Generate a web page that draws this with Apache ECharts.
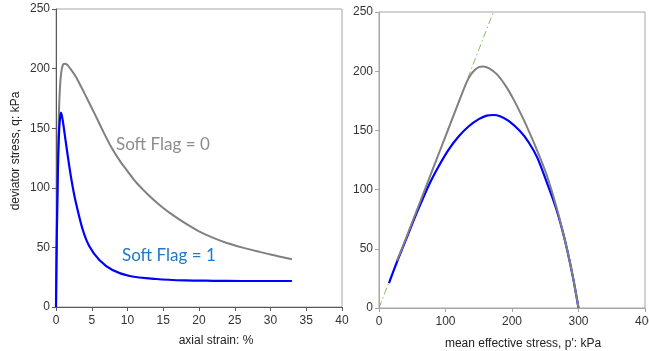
<!DOCTYPE html>
<html>
<head>
<meta charset="utf-8">
<script src="https://cdn.jsdelivr.net/npm/echarts@6/dist/echarts.min.js"></script>
<style>html,body{margin:0;padding:0;background:#fff}#c{width:649px;height:351px}</style>
</head>
<body>
<div id="c"></div>
<script>
// Tick labels
const strainTicks = [0, 5, 10, 15, 20, 25, 30, 35, 40];
const qTicks = [0, 50, 100, 150, 200, 250];
const pTicks = [0, 100, 200, 300, 400];

// Left panel: deviator stress q (kPa) vs axial strain (%)
const softFlag0Strain = [0, 0.1, 0.2, 0.3, 0.45, 0.65, 0.9, 1.2, 1.6, 2.0, 2.8, 3.5, 4.5, 5.5, 6.5, 7.7, 9, 10, 11, 12, 13, 14, 15, 16, 18, 20, 22, 24, 26, 28, 30, 33];
const softFlag0Q      = [0, 50, 95, 135, 170, 192, 202, 204, 203, 200, 193, 185, 173, 161, 148.5, 134.5, 122, 114, 106, 99.5, 93.5, 88, 83, 78.5, 70.5, 63.5, 58, 53.5, 50, 47, 44, 40];

const softFlag1Strain = [0, 0.1, 0.25, 0.4, 0.55, 0.7, 0.93, 1.4, 1.86, 2.33, 2.8, 3.73, 4.66, 6.06, 7.9, 10.3, 14, 18, 22, 26, 30, 33];
const softFlag1Q      = [0, 55, 110, 143, 158, 163, 157, 137, 118, 101, 87, 65, 51, 39.5, 31, 26, 23.5, 22.3, 22, 21.8, 21.8, 21.8];

// Right panel: q vs mean effective stress p' (kPa)
const softFlag0P  = [300, 292, 283, 268, 253, 240, 228, 215, 202.5, 190, 177, 165, 157, 150, 144, 138, 132, 120, 100, 80, 60, 40, 27];
const softFlag0Qp = [0, 25, 49, 83, 111, 130, 146, 162, 176, 188, 197.5, 202.5, 204, 203.5, 201, 197, 191, 174, 145, 116, 87, 58, 40];

const softFlag1P  = [300, 292, 283, 275.6, 265.5, 253, 238, 225, 212.6, 195, 182, 172, 162, 150, 135, 120, 105, 90, 76, 58, 40, 26, 15];
const softFlag1Qp = [0, 25, 49, 66, 85.5, 105, 127, 140, 149, 158, 162, 163, 162.5, 159.5, 153.5, 145, 134, 120, 105, 82, 57, 37.5, 21];

// Critical state line
const cslP = [0, 172];
const cslQ = [0, 250];

const zip = (a, b) => a.map((v, i) => [v, b[i]]);

const font = 'Liberation Sans, Arial, sans-serif';
const labelStyle = { color: '#333', fontSize: 12, fontFamily: font };
const nameStyle = { color: '#222', fontSize: 12, fontFamily: font };

function valAxis(ticks, extra) {
  const step = ticks[1] - ticks[0];
  return Object.assign({
    type: 'value',
    min: ticks[0],
    max: ticks[ticks.length - 1],
    interval: step,
    splitLine: { show: false },
    axisLine: { show: true, lineStyle: { color: '#595959', width: 1 } },
    axisTick: { show: true, inside: false, length: 4, lineStyle: { color: '#595959' } },
    axisLabel: Object.assign({ margin: 6 }, labelStyle),
    nameTextStyle: nameStyle
  }, extra);
}

const lineBase = { type: 'line', showSymbol: false, smooth: 0.3, silent: true };

const chart = echarts.init(document.getElementById('c'));
chart.setOption({
  animation: false,
  backgroundColor: '#fff',
  grid: [
    { left: 56, right: 307, top: 9, bottom: 44, containLabel: false, outerBoundsMode: 'none', show: true, borderColor: '#a6a6a6', borderWidth: 1 },
    { left: 379, right: 4, top: 12, bottom: 43, containLabel: false, outerBoundsMode: 'none', show: true, borderColor: '#a6a6a6', borderWidth: 1 }
  ],
  xAxis: [
    valAxis(strainTicks, { gridIndex: 0, name: 'axial strain: %', nameLocation: 'middle', nameGap: 28,
      axisLabel: Object.assign({ margin: 8 }, labelStyle),
      nameTextStyle: Object.assign({}, nameStyle, { padding: [0, 0, 0, 34] }) }),
    valAxis(pTicks, { gridIndex: 1, name: "mean effective stress, p': kPa", nameLocation: 'middle', nameGap: 30,
      axisLabel: Object.assign({ margin: 8 }, labelStyle),
      axisLine: { show: true, lineStyle: { color: '#a6a6a6' } },
      axisTick: { show: true, length: 4, lineStyle: { color: '#a6a6a6' } },
      nameTextStyle: Object.assign({}, nameStyle, { padding: [0, 0, 0, 22] }) })
  ],
  yAxis: [
    valAxis(qTicks, { gridIndex: 0, name: 'deviator stress, q: kPa', nameLocation: 'middle', nameGap: 34,
      nameTextStyle: Object.assign({}, nameStyle, { padding: [0, 0, 0, 14] }) }),
    valAxis(qTicks, { gridIndex: 1,
      axisLine: { show: true, lineStyle: { color: '#a6a6a6' } },
      axisTick: { show: true, length: 4, lineStyle: { color: '#a6a6a6' } } })
  ],
  series: [
    Object.assign({}, lineBase, { xAxisIndex: 0, yAxisIndex: 0, data: zip(softFlag0Strain, softFlag0Q),
      lineStyle: { color: '#808080', width: 2 } }),
    Object.assign({}, lineBase, { xAxisIndex: 0, yAxisIndex: 0, data: zip(softFlag1Strain, softFlag1Q),
      lineStyle: { color: '#0000ff', width: 2.2 } }),
    Object.assign({}, lineBase, { smooth: false, xAxisIndex: 1, yAxisIndex: 1, data: zip(cslP, cslQ),
      lineStyle: { color: '#86bb62', width: 1, type: [7, 3, 1.5, 3] } }),
    Object.assign({}, lineBase, { xAxisIndex: 1, yAxisIndex: 1, data: zip(softFlag1P, softFlag1Qp),
      lineStyle: { color: '#0000ff', width: 2.2 } }),
    Object.assign({}, lineBase, { xAxisIndex: 1, yAxisIndex: 1, data: zip(softFlag0P, softFlag0Qp),
      lineStyle: { color: '#808080', width: 2 } })
  ],
  graphic: [
    { type: 'text', left: 116, top: 136, style: { text: 'Soft Flag = 0', fill: '#8c8c8c', font: '17px Lato, "Open Sans", sans-serif' } },
    { type: 'text', left: 122, top: 247, style: { text: 'Soft Flag = 1', fill: '#1f78c8', font: '17px Lato, "Open Sans", sans-serif' } }
  ]
});
</script>
</body>
</html>
